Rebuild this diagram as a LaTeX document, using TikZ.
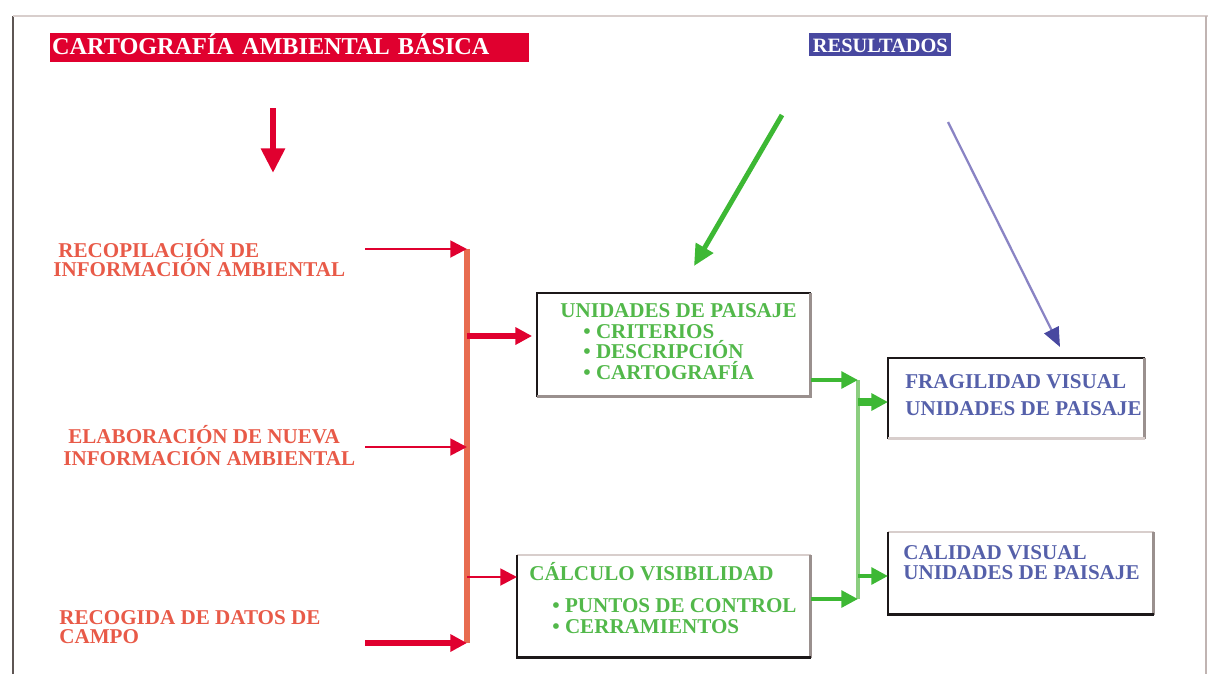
\documentclass[tikz,border=0pt]{standalone}
\usepackage{fontspec}
\setmainfont{Liberation Serif}
\usetikzlibrary{arrows.meta}
\definecolor{cartored}{HTML}{E0002F}
\definecolor{salmon}{HTML}{E86C50}
\definecolor{labelred}{HTML}{E85A48}
\definecolor{leafgreen}{HTML}{3DB834}
\definecolor{palegreen}{HTML}{8CCE80}
\definecolor{textgreen}{HTML}{52B84A}
\definecolor{resblue}{HTML}{4848A0}
\definecolor{textblue}{HTML}{5560AA}
\definecolor{lilac}{HTML}{8A84C4}
\definecolor{edgeblack}{HTML}{1C1819}
\definecolor{edgegrey}{HTML}{9A908E}
\definecolor{edgepale}{HTML}{D8CECC}
\definecolor{framedark}{HTML}{5E5654}
\definecolor{framegrey}{HTML}{C0B4B2}

\begin{document}
\begin{tikzpicture}[x=0.02cm, y=-0.02cm,
    lbl/.style={anchor=base west, inner sep=0pt, font=\fontsize{12}{12}\selectfont\bfseries},
    redtxt/.style={lbl, text=labelred},
    greentxt/.style={lbl, text=textgreen},
    bluetxt/.style={lbl, text=textblue},
    boxnode/.style={anchor=north west, inner sep=0pt},
    edgedark/.style={draw=edgeblack, line width=1.4pt},
    edgemid/.style={draw=edgegrey, line width=1.4pt},
    edgepaler/.style={draw=edgepale, line width=1.4pt},
    tip/.style={-{Triangle[length=9.5pt,width=9.5pt]}},
    redthin/.style={tip, draw=cartored, line width=1.6pt},
    redthick/.style={tip, draw=cartored, line width=3.4pt},
    salmonbar/.style={draw=salmon, line width=3pt},
    greenthin/.style={tip, draw=leafgreen, line width=2.2pt},
    greenthick/.style={tip, draw=leafgreen, line width=4pt},
    palebar/.style={draw=palegreen, line width=2.8pt}]

    \useasboundingbox (0,0) rectangle (1208,674);

    % frame of the page
    \draw[framedark, line width=1.4pt] (13,674) -- (13,16);
    \draw[edgepale, line width=1.4pt] (13,16) -- (1208,16);
    \draw[framegrey, line width=1.4pt] (1206,16) -- (1206,674);

    \node[anchor=base west, fill=cartored, text=white, inner xsep=1pt, inner ysep=0pt,
        text height=12pt, text depth=4.5pt, text width=9.51cm, align=left,
        font=\fontsize{13.8}{14}\selectfont\bfseries] (carto) at (50,54) {CARTOGRAFÍA AMBIENTAL BÁSICA};
    \node[anchor=base west, fill=resblue, text=white, inner sep=0pt, minimum width=2.84cm,
        text height=10.8pt, text depth=2.3pt,
        font=\fontsize{11.6}{12}\selectfont\bfseries] (result) at (809,52) {RESULTADOS};

    \node[redtxt] (rec1) at (58,257) {RECOPILACIÓN DE};
    \node[redtxt] (rec2) at (53,276) {INFORMACIÓN AMBIENTAL};
    \node[redtxt] (ela1) at (68,443) {ELABORACIÓN DE NUEVA};
    \node[redtxt] (ela2) at (63,465) {INFORMACIÓN AMBIENTAL};
    \node[redtxt] (reg1) at (59,624) {RECOGIDA DE DATOS DE};
    \node[redtxt] (reg2) at (59,643) {CAMPO};

    \node[boxnode, minimum width=5.46cm, minimum height=2.06cm] (paisaje) at (537,293) {};
    \node[boxnode, minimum width=5.86cm, minimum height=2.04cm] (calculo) at (517,555) {};
    \node[boxnode, minimum width=5.12cm, minimum height=1.6cm] (fragil) at (888,358) {};
    \node[boxnode, minimum width=5.3cm, minimum height=1.64cm] (calidad) at (888,532) {};

    \draw[edgedark] (paisaje.south west) -- (paisaje.north west) -- (paisaje.north east);
    \draw[edgemid] (paisaje.north east) -- (paisaje.south east) -- (paisaje.south west);
    \draw[edgepaler] (calculo.north west) -- (calculo.north east);
    \draw[edgemid] (calculo.north east) -- (calculo.south east);
    \draw[edgedark] (calculo.south east) -- (calculo.south west) -- (calculo.north west);
    \draw[edgedark] (fragil.south west) -- (fragil.north west) -- (fragil.north east);
    \draw[edgemid] (fragil.north east) -- (fragil.south east);
    \draw[edgepaler] (fragil.south east) -- (fragil.south west);
    \draw[edgepaler] (calidad.north west) -- (calidad.north east);
    \draw[edgemid] (calidad.north east) -- (calidad.south east);
    \draw[edgedark] (calidad.south east) -- (calidad.south west) -- (calidad.north west);

    \node[greentxt] (pai0) at (560,317) {UNIDADES DE PAISAJE};
    \node[greentxt] (pai1) at (583,338) {• CRITERIOS};
    \node[greentxt] (pai2) at (583,358) {• DESCRIPCIÓN};
    \node[greentxt] (pai3) at (583,379) {• CARTOGRAFÍA};
    \node[greentxt] (cal0) at (529,580) {CÁLCULO VISIBILIDAD};
    \node[greentxt] (cal1) at (552,612) {• PUNTOS DE CONTROL};
    \node[greentxt] (cal2) at (552,633) {• CERRAMIENTOS};
    \node[bluetxt] (fra1) at (905,388) {FRAGILIDAD VISUAL};
    \node[bluetxt] (fra2) at (905,415) {UNIDADES DE PAISAJE};
    \node[bluetxt] (cvi1) at (903,559) {CALIDAD VISUAL};
    \node[bluetxt] (cvi2) at (903,579) {UNIDADES DE PAISAJE};

    \coordinate (dn1) at (273,108);
    \coordinate (dn2) at (273,173);
    \coordinate (gr1) at (782,115);
    \coordinate (gr2) at (694,266);
    \coordinate (bl1) at (948,122);
    \coordinate (bl2) at (1060,347);
    \draw[-{Triangle[length=14pt,width=13pt]}, cartored, line width=3.5pt] (dn1) -- (dn2);
    \draw[-{Triangle[length=12pt,width=11pt]}, leafgreen, line width=2.8pt] (gr1) -- (gr2);
    \draw[-{Triangle[length=11pt,width=9pt,color=resblue]}, lilac, line width=1.3pt] (bl1) -- (bl2);

    \coordinate (r1) at (365,249);
    \coordinate (r2) at (365,447);
    \coordinate (r3) at (365,643);
    \coordinate (j1) at (467,249);
    \coordinate (j2) at (467,447);
    \coordinate (j3) at (467,643);
    \coordinate (jb1) at (467,336);
    \coordinate (jb2) at (467,577);
    \draw[salmonbar] (j1) -- (j3);
    \draw[redthin] (r1) -- (j1);
    \draw[redthin] (r2) -- (j2);
    \draw[redthick] (r3) -- (j3);
    \draw[redthick, shorten >=2.8pt] (jb1) -- (paisaje.west |- jb1);
    \draw[redthin] (jb2) -- (calculo.west |- jb2);

    \coordinate (gj1) at (858,380);
    \coordinate (gj2) at (858,599);
    \coordinate (gb1) at (858,402);
    \coordinate (gb2) at (858,576);
    \draw[palebar] (gj1) -- (gj2);
    \draw[greenthin] (paisaje.east |- gj1) -- (gj1);
    \draw[greenthin] (calculo.east |- gj2) -- (gj2);
    \draw[greenthick] (gb1) -- (fragil.west |- gb1);
    \draw[greenthin] (gb2) -- (calidad.west |- gb2);

\end{tikzpicture}
\end{document}
